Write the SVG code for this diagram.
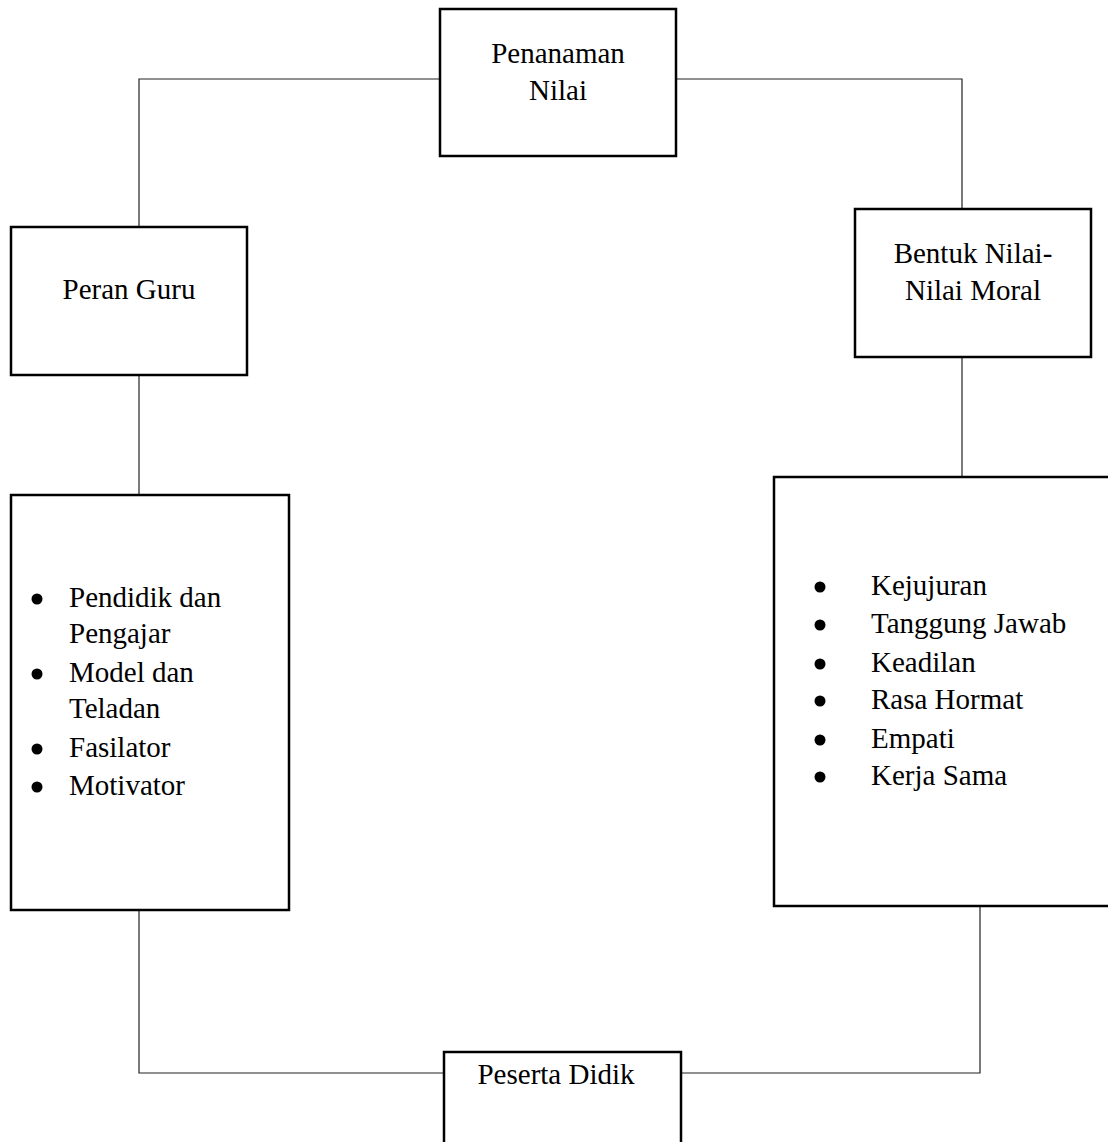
<svg xmlns="http://www.w3.org/2000/svg" width="1108" height="1142" viewBox="0 0 1108 1142">
<style>
.box{fill:#fff;stroke:#000;stroke-width:2.5}
.conn{fill:none;stroke:#222;stroke-width:1.2}
text{font-family:"Liberation Serif","Times New Roman",serif;font-size:29px;fill:#000}
.c{text-anchor:middle}
.dot{fill:#000}
</style>
<rect width="1108" height="1142" fill="#fff"/>
<g id="connectors">
<polyline class="conn" points="440,79 139,79 139,227"/>
<polyline class="conn" points="676,79 962,79 962,209"/>
<line class="conn" x1="139" y1="375" x2="139" y2="495"/>
<line class="conn" x1="962" y1="357" x2="962" y2="477"/>
<polyline class="conn" points="139,910 139,1073 444,1073"/>
<polyline class="conn" points="980,906 980,1073 681,1073"/>
</g>
<g id="penanaman">
<rect class="box" x="440" y="9" width="236" height="147"/>
<text class="c" x="558" y="63">Penanaman</text>
<text class="c" x="558" y="100">Nilai</text>
</g>
<g id="peran-guru">
<rect class="box" x="11" y="227" width="236" height="148"/>
<text class="c" x="129" y="299">Peran Guru</text>
</g>
<g id="bentuk-nilai">
<rect class="box" x="855" y="209" width="236" height="148"/>
<text class="c" x="973" y="263">Bentuk Nilai-</text>
<text class="c" x="973" y="300">Nilai Moral</text>
</g>
<g id="peran-list">
<rect class="box" x="11" y="495" width="278" height="415"/>
<circle class="dot" cx="37" cy="599" r="5.5"/>
<circle class="dot" cx="37" cy="674" r="5.5"/>
<circle class="dot" cx="37" cy="749" r="5.5"/>
<circle class="dot" cx="37" cy="787" r="5.5"/>
<text x="69" y="607">Pendidik dan</text>
<text x="69" y="643">Pengajar</text>
<text x="69" y="682">Model dan</text>
<text x="69" y="718">Teladan</text>
<text x="69" y="757">Fasilator</text>
<text x="69" y="795">Motivator</text>
</g>
<g id="nilai-list">
<rect class="box" x="774" y="477" width="350" height="429"/>
<circle class="dot" cx="820" cy="587" r="5.5"/>
<circle class="dot" cx="820" cy="625" r="5.5"/>
<circle class="dot" cx="820" cy="664" r="5.5"/>
<circle class="dot" cx="820" cy="701" r="5.5"/>
<circle class="dot" cx="820" cy="740" r="5.5"/>
<circle class="dot" cx="820" cy="777" r="5.5"/>
<text x="871" y="595">Kejujuran</text>
<text x="871" y="633">Tanggung Jawab</text>
<text x="871" y="672">Keadilan</text>
<text x="871" y="709">Rasa Hormat</text>
<text x="871" y="748">Empati</text>
<text x="871" y="785">Kerja Sama</text>
</g>
<g id="peserta-didik">
<rect class="box" x="444" y="1052" width="237" height="110"/>
<text class="c" x="556" y="1084">Peserta Didik</text>
</g>
</svg>
